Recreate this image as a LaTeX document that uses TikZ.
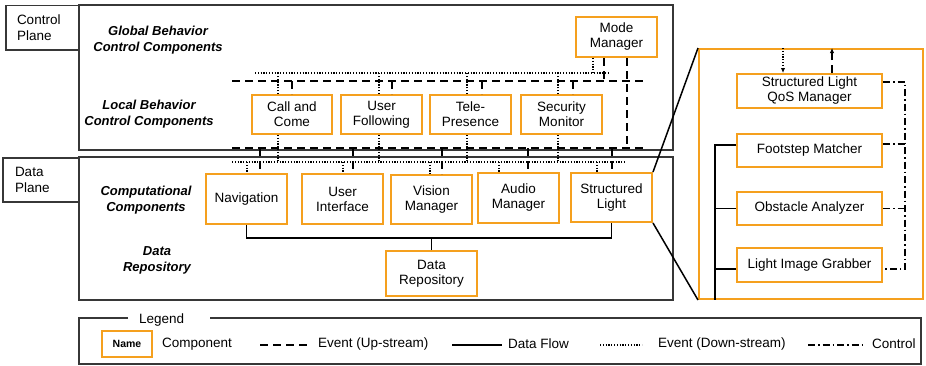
\documentclass[tikz,border=0pt]{standalone}
\usepackage{fontspec}
\setmainfont{Liberation Sans}
\usetikzlibrary{arrows.meta,calc}
\definecolor{compor}{RGB}{245,160,30}
\definecolor{frame}{RGB}{55,55,55}
\begin{document}
\begin{tikzpicture}[x=1pt,y=-1pt,
  comp/.style={draw=compor, line width=2pt, fill=white, align=center, inner sep=0pt,
               font=\fontsize{13.5}{15}\selectfont},
  plane/.style={draw=frame, line width=1.5pt, inner sep=0pt},
  planetag/.style={draw=frame, line width=1.5pt, align=left, inner ysep=0pt,
                   font=\fontsize{13.5}{16}\selectfont},
  tier/.style={align=center, font=\fontsize{13}{16}\selectfont\bfseries\itshape},
  evup/.style={line width=1.6pt, dash pattern=on 8pt off 5pt},
  evdown/.style={line width=1.3pt, dash pattern=on 1.2pt off 1.6pt},
  flow/.style={line width=1.2pt},
  ctrl/.style={line width=1.4pt, dash pattern=on 7pt off 3pt on 1.5pt off 3pt},
  zoomline/.style={line width=1.5pt},
  key/.style={anchor=west, inner sep=0pt, font=\fontsize{13.5}{15}\selectfont},
  tip/.style={-{Latex[length=5pt,width=4.5pt]}},
]
\useasboundingbox (0,0) rectangle (926,365);

% planes and their tags
\node[plane, minimum width=594pt, minimum height=145pt] (ctrlplane) at (376,77.5) {};
\node[plane, minimum width=594pt, minimum height=143pt] (dataplane) at (376,228.5) {};
\node[planetag, text width=51pt, inner xsep=11pt, minimum height=44.5pt] (ctrltag) at (42.5,27.75) {Control\\Plane};
\node[planetag, text width=52pt, inner xsep=12pt, minimum height=44pt] (datatag) at (41,180) {Data\\Plane};

% tier captions
\node[tier] (gbc) at (158,40.5) {Global Behavior\\Control Components};
\node[tier] (lbc) at (149,114.5) {Local Behavior\\Control Components};
\node[tier] (ccl) at (146,200) {Computational\\Components};
\node[tier] (drl) at (157,260.5) {Data\\Repository};

% control plane components
\node[comp, minimum width=81pt, minimum height=40pt] (mm) at (616.5,37) {Mode\\Manager};
\node[comp, minimum width=80pt, minimum height=39pt] (cc) at (292,114.5) {Call and\\Come};
\node[comp, minimum width=81pt, minimum height=39pt] (uf) at (381.5,114.5) {User\\Following};
\node[comp, minimum width=81pt, minimum height=39pt] (tp) at (470.5,114.5) {Tele-\\Presence};
\node[comp, minimum width=81pt, minimum height=39pt] (sm) at (561.5,114.5) {Security\\Monitor};

% data plane components
\node[comp, minimum width=81pt, minimum height=50pt] (nav) at (246.5,199) {Navigation};
\node[comp, minimum width=81pt, minimum height=50pt] (ui) at (342.5,199) {User\\Interface};
\node[comp, minimum width=81pt, minimum height=49pt] (vm) at (431.5,199.5) {Vision\\Manager};
\node[comp, minimum width=81pt, minimum height=50pt] (am) at (518.5,198) {Audio\\Manager};
\node[comp, minimum width=81pt, minimum height=49pt] (sl) at (611.5,197.5) {Structured\\Light};
\node[comp, minimum width=91pt, minimum height=45pt] (dr) at (431.5,273.5) {Data\\Repository};

% expanded view of the structured light component
\node[comp, minimum width=224pt, minimum height=250pt] (panel) at (811,174) {};
\node[comp, minimum width=145pt, minimum height=34pt] (qos) at (809.5,91) {Structured Light\\QoS Manager};
\node[comp, minimum width=145pt, minimum height=33pt] (fs) at (809.5,150.5) {Footstep Matcher};
\node[comp, minimum width=145pt, minimum height=33pt] (oa) at (809.5,208.5) {Obstacle Analyzer};
\node[comp, minimum width=145pt, minimum height=34pt] (lg) at (809.5,265) {Light Image Grabber};

% event buses
\coordinate (dnL) at (255,73);  \coordinate (dnR) at (610,73);
\coordinate (upL) at (232,81);  \coordinate (upR) at (643,81);
\coordinate (loL) at (232,148); \coordinate (loR) at (643,148);
\coordinate (ddL) at (232,162); \coordinate (ddR) at (626,162);
\coordinate (dfl) at (0,238);
\draw[evdown] (dnL) -- (dnR);
\draw[evup] (upL) -- (upR);
\draw[evup] (loL) -- (loR);
\draw[evdown] (ddL) -- (ddR);

% local behavior components on the buses
\foreach \n/\a/\b in {cc/-14/0, uf/-2.5/10.5, tp/-3.5/11.5, sm/-3.5/11.5} {
  \path (\n.north) ++(\a,0) coordinate (\n-d) (\n.north) ++(\b,0) coordinate (\n-u);
  \draw[evdown] (\n-d) -- (\n-d |- dnL);
  \draw[evdown] (\n-d |- \n.south) -- (\n-d |- ddL);
  \draw[evup] (\n-u |- upL) -- (\n-u);
}

% computational components on the buses
\foreach \n/\a/\b in {nav/0.5/13.5, ui/0.5/10.5, vm/-1.5/10.5, am/-19.5/9.5, sl/-14.5/0.5} {
  \path (\n.north) ++(\a,0) coordinate (\n-d) (\n.north) ++(\b,0) coordinate (\n-u);
  \draw[evdown] (\n-d |- ddL) -- (\n-d);
  \draw[evup] (\n-u |- loL) -- (\n-u);
}

% mode manager links
\path (mm.south) ++(-23.5,0) coordinate (mm-d)
      (mm.south) ++(-12.5,0) coordinate (mm-u)
      (mm.south) ++(10.5,0) coordinate (mm-c);
\draw[evdown] (mm-d) -- (mm-d |- dnL);
\draw[evup] (mm-u) -- (mm-u |- upL);
\draw[evup] (mm-c) -- (mm-c |- loL);

% data flow to the repository
\draw[flow] (nav.south) -- (nav.south |- dfl) -| (sl.south);
\draw[flow] (dr.north) -- (dr.north |- dfl);

% inside the expanded view
\coordinate (rbus) at (715,0);
\coordinate (cbus) at (905,0);
\path ([yshift=5.5pt]fs.west) coordinate (fs-f)
      (oa.west) coordinate (oa-f)
      ([yshift=-4pt]lg.west) coordinate (lg-f);
\draw[flow] (fs-f) -- (fs-f -| rbus) -- (rbus |- panel.south);
\draw[flow] (oa-f) -- (oa-f -| rbus);
\draw[flow] (lg-f) -- (lg-f -| rbus);

\path ([yshift=9pt]qos.east) coordinate (qos-c)
      ([yshift=6.5pt]fs.east) coordinate (fs-c)
      (oa.east) coordinate (oa-c)
      ([yshift=-4pt]lg.east) coordinate (lg-c);
\draw[ctrl] (qos-c) -- (qos-c -| cbus) -- (cbus |- lg-c) -- (lg-c);
\draw[ctrl] (fs-c) -- (fs-c -| cbus);
\draw[ctrl] (oa-c) -- (oa-c -| cbus);

\path ([xshift=-26.5pt]qos.north) coordinate (qos-d)
      ([xshift=22.5pt]qos.north) coordinate (qos-u);
\draw[evdown, tip] (qos-d |- panel.north) -- (qos-d);
\draw[evup, tip] (qos-u) -- (qos-u |- panel.north);

% magnification lines
\draw[zoomline] (sl.north east) -- (panel.north west);
\draw[zoomline] (sl.south east) -- (panel.south west);

% legend
\draw[draw=frame, line width=1.5pt] (128,318) -- (79,318) -- (79,364) -- (921,364) -- (921,318) -- (210,318);
\node[key] (legtitle) at (139,320) {Legend};
\node[comp, minimum width=50pt, minimum height=26pt, font=\fontsize{10.5}{12}\selectfont\bfseries] (keycomp) at (127,344) {Name};
\node[key] (keycomptxt) at (162,344) {Component};
\coordinate (k1a) at (260,345); \coordinate (k1b) at (310,345);
\draw[evup] (k1a) -- (k1b);
\node[key] (keyup) at (318,344) {Event (Up-stream)};
\coordinate (k2a) at (452,345); \coordinate (k2b) at (502,345);
\draw[flow] (k2a) -- (k2b);
\node[key] (keyflow) at (508,344) {Data Flow};
\coordinate (k3a) at (600,345); \coordinate (k3b) at (642,345);
\draw[evdown] (k3a) -- (k3b);
\node[key] (keydown) at (658,344) {Event (Down-stream)};
\coordinate (k4a) at (808,345); \coordinate (k4b) at (865,345);
\draw[ctrl] (k4a) -- (k4b);
\node[key] (keyctrl) at (872,344) {Control};
\end{tikzpicture}
\end{document}
